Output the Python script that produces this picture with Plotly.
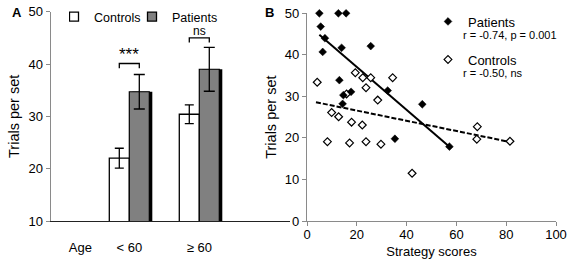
import plotly.graph_objects as go

# ---------------- Panel A data ----------------
age_axis_label = "Age"
age_groups = ["< 60", "≥ 60"]
group_pos = [1, 2]
controls_mean = [22.0, 30.4]
controls_sem = [1.9, 1.8]
patients_mean = [34.7, 39.0]
patients_sem = [3.3, 4.2]
sig_labels = ["***", "ns"]
sig_heights = [40.1, 45.0]

# ---------------- Panel B data ----------------
patients_strategy = [4.96, 5.5, 7.2, 6.3, 12.6, 15.7, 13.9, 25.6, 13.0, 14.6, 17.7, 14.3, 32.4, 46.3, 35.3, 57.2]
patients_trials = [50.0, 46.8, 44.0, 40.7, 50.0, 50.0, 41.7, 42.1, 33.9, 30.3, 31.1, 28.2, 31.4, 28.1, 19.8, 17.9]
controls_strategy = [4.1, 19.4, 22.4, 25.6, 34.4, 23.7, 15.9, 9.9, 12.7, 17.9, 22.2, 28.4, 8.2, 17.1, 23.7, 29.7, 42.2, 68.4, 68.2, 81.5]
controls_trials = [33.4, 35.7, 34.5, 34.5, 34.5, 32.1, 30.6, 26.1, 25.1, 23.8, 23.1, 29.1, 19.1, 18.8, 19.1, 18.5, 11.5, 22.7, 19.7, 19.2]
patients_fit_x = [4.96, 57.2]
patients_fit_y = [44.85, 17.9]
controls_fit_x = [3.6, 80.9]
controls_fit_y = [28.6, 19.1]
patients_stats = "r = -0.74, p = 0.001"
controls_stats = "r = -0.50, ns"

FONT = "Arial, Liberation Sans, sans-serif"
W, H = 570, 264
bar_w = 0.2857
shadow_shift = 0.043
AXGRAY = "#8a8a8a"

fig = go.Figure()

# Panel A bars
fig.add_trace(go.Bar(
    x=group_pos, y=controls_mean, width=bar_w, offset=-bar_w,
    marker=dict(color="white", line=dict(color="black", width=1.3)),
    error_y=dict(type="data", array=controls_sem, color="black", thickness=1.3, width=4.5),
    xaxis="x", yaxis="y", showlegend=False))
fig.add_trace(go.Bar(
    x=group_pos, y=patients_mean, width=bar_w, offset=shadow_shift,
    marker=dict(color="black", line=dict(color="black", width=0)),
    xaxis="x", yaxis="y", showlegend=False, hoverinfo="skip"))
fig.add_trace(go.Bar(
    x=group_pos, y=patients_mean, width=bar_w, offset=0,
    marker=dict(color="#808080", line=dict(color="black", width=1.2)),
    error_y=dict(type="data", array=patients_sem, color="black", thickness=1.3, width=5.5),
    xaxis="x", yaxis="y", showlegend=False))

# Panel A legend keys
fig.add_trace(go.Scatter(
    x=[None], y=[None], mode="markers", name="Controls",
    marker=dict(symbol="square", size=9, color="white", line=dict(color="black", width=1.3)),
    xaxis="x", yaxis="y", legend="legend"))
fig.add_trace(go.Scatter(
    x=[None], y=[None], mode="markers", name="Patients",
    marker=dict(symbol="square", size=9, color="#808080", line=dict(color="black", width=1.3)),
    xaxis="x", yaxis="y", legend="legend"))

# Panel B
fig.add_trace(go.Scatter(
    x=controls_fit_x, y=controls_fit_y, mode="lines",
    line=dict(color="black", width=2, dash="5px,2px"),
    xaxis="x2", yaxis="y2", showlegend=False))
fig.add_trace(go.Scatter(
    x=patients_fit_x, y=patients_fit_y, mode="lines",
    line=dict(color="black", width=2),
    xaxis="x2", yaxis="y2", showlegend=False))
fig.add_trace(go.Scatter(
    x=controls_strategy, y=controls_trials, mode="markers", name="Controls",
    marker=dict(symbol="diamond", size=6, color="white", line=dict(color="black", width=1.2)),
    xaxis="x2", yaxis="y2", legend="legend3", cliponaxis=False))
fig.add_trace(go.Scatter(
    x=patients_strategy, y=patients_trials, mode="markers", name="Patients",
    marker=dict(symbol="diamond", size=6, color="black", line=dict(color="black", width=0.5)),
    xaxis="x2", yaxis="y2", legend="legend2", cliponaxis=False))

# significance brackets
shapes = []
annotations = []
for pos, lab, h in zip(group_pos, sig_labels, sig_heights):
    x0 = pos - bar_w / 2
    x1 = pos + bar_w / 2
    shapes.append(dict(type="path", xref="x", yref="y",
                       path=f"M{x0},{h-0.9} L{x0},{h} L{x1},{h} L{x1},{h-0.9}",
                       line=dict(color="black", width=1.3)))
    annotations.append(dict(x=pos, y=h, xref="x", yref="y", text=lab, showarrow=False,
                            xanchor="center", yanchor="bottom", yshift=-2,
                            font=dict(size=17 if lab == "***" else 12, color="black", family=FONT)))

annotations += [
    dict(x=17 / W, y=1 - 13 / H, xref="paper", yref="paper", text="<b>A</b>", showarrow=False,
         xanchor="center", yanchor="middle", font=dict(size=13, color="black", family=FONT)),
    dict(x=269 / W, y=1 - 13 / H, xref="paper", yref="paper", text="<b>B</b>", showarrow=False,
         xanchor="center", yanchor="middle", font=dict(size=13, color="black", family=FONT)),
    dict(x=461 / W, y=1 - 35 / H, xref="paper", yref="paper", text=patients_stats, showarrow=False,
         xanchor="left", yanchor="middle", font=dict(size=11, color="black", family=FONT)),
    dict(x=461 / W, y=1 - 72.5 / H, xref="paper", yref="paper", text=controls_stats, showarrow=False,
         xanchor="left", yanchor="middle", font=dict(size=11, color="black", family=FONT)),
]

legend_common = dict(bgcolor="rgba(0,0,0,0)", borderwidth=0,
                     itemclick=False, itemdoubleclick=False, indentation=-15)

fig.update_layout(
    width=W, height=H, margin=dict(l=0, r=0, t=0, b=0, autoexpand=False),
    paper_bgcolor="white", plot_bgcolor="white",
    barmode="overlay",
    font=dict(family=FONT, size=13, color="black"),
    xaxis=dict(domain=[50.7 / W, 290 / W], range=[-0.123, 3.296], anchor="y", automargin=False,
               tickvals=[0.3] + group_pos, ticktext=[age_axis_label] + age_groups,
               showgrid=False, zeroline=False,
               showline=True, linecolor="#222222", linewidth=1.3, ticks="",
               ticklabelstandoff=14, tickfont=dict(size=13, color="black")),
    yaxis=dict(domain=[1 - 221 / H, 1 - 11.7 / H], range=[10, 50], anchor="x", automargin=False,
               tickvals=[10, 20, 30, 40, 50], showgrid=False, zeroline=False,
               showline=True, linecolor=AXGRAY, linewidth=1.3, ticks="outside", ticklen=4,
               tickcolor=AXGRAY, tickfont=dict(size=13, color="black"),
               title=dict(text="Trials per set", font=dict(size=14.5, color="black"), standoff=5)),
    xaxis2=dict(domain=[307 / W, 556 / W], range=[0, 100], anchor="y2", automargin=False,
                tickvals=[0, 20, 40, 60, 80, 100], showgrid=False, zeroline=False,
                showline=True, linecolor=AXGRAY, linewidth=1.3, ticks="outside", ticklen=4,
                tickcolor=AXGRAY, tickfont=dict(size=13, color="black"), ticklabelstandoff=-3,
                title=dict(text="Strategy scores", font=dict(size=13, color="black"), standoff=6)),
    yaxis2=dict(domain=[1 - 221 / H, 1 - 13.3 / H], range=[0, 50], anchor="x2", automargin=False,
                tickvals=[0, 10, 20, 30, 40, 50], showgrid=False, zeroline=False,
                showline=True, linecolor=AXGRAY, linewidth=1.3, ticks="outside", ticklen=4,
                tickcolor=AXGRAY, tickfont=dict(size=13, color="black"),
                title=dict(text="Trials per set", font=dict(size=14.5, color="black"), standoff=4)),
    legend=dict(orientation="h", x=69 / W, y=1 - 17 / H, xanchor="left", yanchor="middle",
                entrywidth=48, font=dict(size=12.5, color="black", family=FONT), **legend_common),
    legend2=dict(x=443 / W, y=1 - 21.5 / H, xanchor="left", yanchor="middle",
                 font=dict(size=13, color="black", family=FONT), **legend_common),
    legend3=dict(x=443 / W, y=1 - 59.5 / H, xanchor="left", yanchor="middle",
                 font=dict(size=13, color="black", family=FONT), **legend_common),
    shapes=shapes, annotations=annotations,
)

fig.write_html("out.html", config={"displayModeBar": False},
               post_script="document.body.style.margin='0';document.body.style.padding='0';")
